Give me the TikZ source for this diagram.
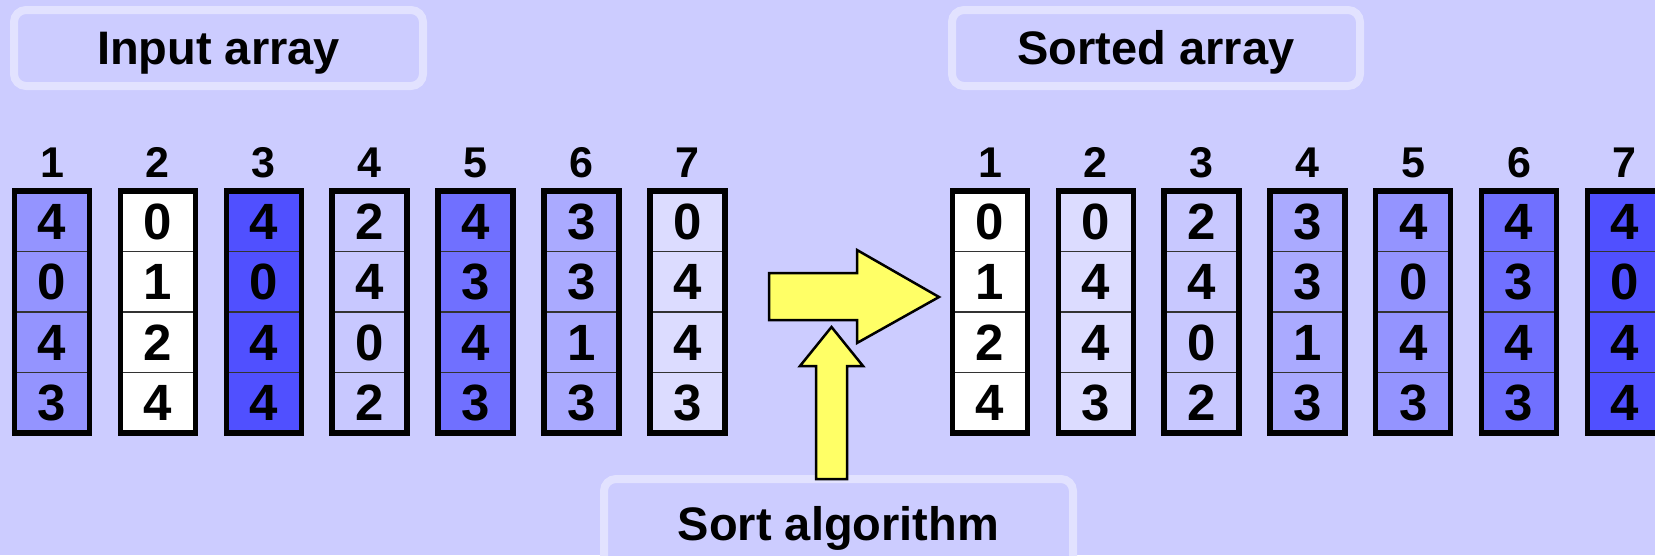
\documentclass[tikz,border=0pt]{standalone}
\usepackage{fontspec}
\setmainfont{Liberation Sans}
\definecolor{bg}{HTML}{CCCCFF}
\definecolor{rim}{HTML}{E2E2FF}
\definecolor{shA}{HTML}{9494FF}
\definecolor{shC}{HTML}{5050FF}
\definecolor{shD}{HTML}{C8C8FF}
\definecolor{shE}{HTML}{7070FF}
\definecolor{shF}{HTML}{AAAAFF}
\definecolor{shG}{HTML}{DCDCFF}
\definecolor{arrowfill}{HTML}{FFFF66}
\tikzset{
  titlebox/.style={draw=rim, line width=8pt, rounded corners=12pt, fill=bg,
    inner sep=0pt, text height=33pt, text depth=0pt,
    font=\bfseries\fontsize{47}{50}\selectfont},
  idx/.style={anchor=base, inner sep=0pt, font=\bfseries\fontsize{43}{44}\selectfont},
  cell/.style={draw=black!80, line width=1.5pt, minimum width=75pt,
    minimum height=60.5pt, inner sep=0pt, outer sep=0pt,
    text height=36pt, text depth=0pt,
    font=\bfseries\fontsize{51}{52}\selectfont},
  frame/.style={draw=black, line width=5.5pt},
  blockarrow/.style={draw=black, line width=2.5pt, fill=arrowfill, line join=miter}
}
\begin{document}
\begin{tikzpicture}[x=1pt, y=-1pt]
\useasboundingbox (0,0) rectangle (1655,555);
\clip (0,0) rectangle (1655,555);
\fill[bg] (0,0) rectangle (1655,555);

% headings
\node[titlebox, minimum width=409pt, minimum height=76pt] (inhead) at (218.5,48) {Input array};
\node[titlebox, minimum width=408pt, minimum height=76pt] (outhead) at (1156,48) {Sorted array};

% unsorted columns
\foreach \i/\c/\a/\b/\e/\d in {1/shA/4/0/4/3, 2/white/0/1/2/4, 3/shC/4/0/4/4,
    4/shD/2/4/0/2, 5/shE/4/3/4/3, 6/shF/3/3/1/3, 7/shG/0/4/4/3}{
  \pgfmathsetmacro\x{52+105.9*(\i-1)}
  \node[idx] (lin\i) at (\x,177) {\i};
  \node[cell, fill=\c] (in\i-1) at (\x,221.25) {\a};
  \node[cell, fill=\c] (in\i-2) at (\x,281.75) {\b};
  \node[cell, fill=\c] (in\i-3) at (\x,342.25) {\e};
  \node[cell, fill=\c] (in\i-4) at (\x,402.75) {\d};
  \draw[frame] (in\i-1.north west) rectangle (in\i-4.south east);
}

% sorted columns
\foreach \i/\c/\a/\b/\e/\d in {1/white/0/1/2/4, 2/shG/0/4/4/3, 3/shD/2/4/0/2,
    4/shF/3/3/1/3, 5/shA/4/0/4/3, 6/shE/4/3/4/3, 7/shC/4/0/4/4}{
  \pgfmathsetmacro\x{990+105.8*(\i-1)}
  \node[idx] (lout\i) at (\x,177) {\i};
  \node[cell, fill=\c] (out\i-1) at (\x,221.25) {\a};
  \node[cell, fill=\c] (out\i-2) at (\x,281.75) {\b};
  \node[cell, fill=\c] (out\i-3) at (\x,342.25) {\e};
  \node[cell, fill=\c] (out\i-4) at (\x,402.75) {\d};
  \draw[frame] (out\i-1.north west) rectangle (out\i-4.south east);
}

% algorithm box
\node[titlebox, minimum width=469pt, minimum height=90pt] (algo) at (838.5,524) {Sort algorithm};

% block arrows: input to output, and from the algorithm box up into it
\draw[blockarrow] (769,273) -- (857,273) -- (857,250) -- (939,297)
  -- (857,343) -- (857,320) -- (769,320) -- cycle;
\draw[blockarrow] (816,479) -- (816,366) -- (800,366) -- (831.5,327)
  -- (863,366) -- (847,366) -- (847,479) -- cycle;
\end{tikzpicture}
\end{document}
